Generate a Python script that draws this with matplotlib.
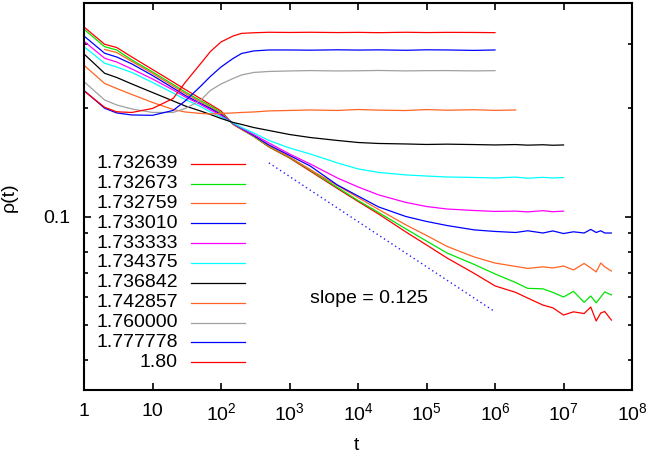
import numpy as np
import matplotlib
matplotlib.use("Agg")
import matplotlib.pyplot as plt
from matplotlib.lines import Line2D
from matplotlib.ticker import FixedLocator, FuncFormatter, NullFormatter, NullLocator

plt.rcParams['font.family'] = ['Liberation Sans', 'DejaVu Sans']
plt.rcParams['mathtext.fontset'] = 'custom'
plt.rcParams['mathtext.rm'] = 'Liberation Sans'
plt.rcParams['mathtext.it'] = 'Liberation Sans:italic'

nan = np.nan

# sampling times shared by all runs (each run stops at its own last time)
t = [1, 2, 3, 5, 10, 20, 30, 50, 70, 100, 150, 200, 300, 500, 1e3,
     2e3, 5e3, 1e4, 2e4, 5e4, 1e5, 2e5, 5e5, 1e6, 2e6, 3e6, 5e6, 7e6, 1e7,
     1.4e7, 2e7, 2.5e7, 3e7, 3.5e7, 4e7, 5e7]

# density rho(t) for each value of the control parameter
rho_1732639 = [0.3353, 0.3003, 0.2942, 0.2769, 0.2557, 0.2361, 0.2251, 0.2125, 0.2046, 0.1963,
               0.1801, 0.1744, 0.1668, 0.1560, 0.1454, 0.1338, 0.1197, 0.1102, 0.1017, 0.0907,
               0.0835, 0.0768, 0.0696, 0.0643, 0.0617, 0.0595, 0.0569, 0.0559, 0.0534, 0.0545,
               0.0539, 0.0562, 0.0514, 0.0541, 0.0546, 0.0517]
rho_1732673 = [0.3305, 0.2957, 0.2896, 0.2717, 0.2517, 0.2324, 0.2215, 0.2098, 0.2026, 0.1944,
               0.1806, 0.1750, 0.1668, 0.1565, 0.1459, 0.1347, 0.1205, 0.1109, 0.1027, 0.0925,
               0.0856, 0.0793, 0.0737, 0.0694, 0.0657, 0.0633, 0.0631, 0.0617, 0.0599, 0.0621,
               0.0579, 0.0603, 0.0577, 0.0599, 0.0619, 0.0607]
rho_1732759 = [nan, 0.2905, 0.2850, 0.2691, 0.2493, 0.2302, 0.2194, 0.2078, 0.2007, 0.1932,
               0.1808, 0.1750, 0.1673, 0.1570, 0.1464, 0.1351, 0.1220, 0.1130, 0.1047, 0.0949,
               0.0887, 0.0827, 0.0773, 0.0744, 0.0728, 0.0719, 0.0726, 0.0721, 0.0730, 0.0712,
               0.0742, 0.0721, 0.0703, 0.0744, 0.0726, 0.0707]
rho_1733010 = [0.3166, 0.2836, 0.2769, 0.2649, 0.2461, 0.2272, 0.2167, 0.2059, 0.1994, 0.1919,
               0.1812, 0.1755, 0.1679, 0.1580, 0.1478, 0.1382, 0.1224, 0.1141, 0.1064, 0.1001,
               0.0970, 0.0945, 0.0919, 0.0910, 0.0904, 0.0914, 0.0901, 0.0913, 0.0898, 0.0908,
               0.0901, 0.0922, 0.0904, 0.0914, 0.0901, 0.0901]
rho_1733333 = [0.3061, 0.2747, 0.2682, 0.2565, 0.2407, 0.2244, 0.2146, 0.2046, 0.1975, 0.1907,
               0.1815, 0.1761, 0.1689, 0.1600, 0.1492, 0.1400, 0.1280, 0.1209, 0.1149, 0.1095,
               0.1067, 0.1050, 0.1040, 0.1034, 0.1036, 0.1031, 0.1039, 0.1032, 0.1036]
rho_1734375 = [0.2957, 0.2661, 0.2598, 0.2509, 0.2354, 0.2201, 0.2112, 0.2020, 0.1950, 0.1889,
               0.1818, 0.1766, 0.1706, 0.1626, 0.1550, 0.1492, 0.1409, 0.1356, 0.1326, 0.1305,
               0.1296, 0.1288, 0.1284, 0.1280, 0.1287, 0.1278, 0.1285, 0.1280, 0.1283]
rho_1736842 = [0.2823, 0.2496, 0.2430, 0.2331, 0.2208, 0.2092, 0.2026, 0.1963, 0.1919, 0.1871,
               0.1824, 0.1801, 0.1766, 0.1733, 0.1689, 0.1657, 0.1626, 0.1605, 0.1595, 0.1590,
               0.1585, 0.1588, 0.1584, 0.1580, 0.1584, 0.1578, 0.1582, 0.1577, 0.1580]
rho_1742857 = [0.2627, 0.2339, 0.2265, 0.2180, 0.2072, 0.1981, 0.1950, 0.1932, 0.1925, 0.1932,
               0.1938, 0.1944, 0.1950, 0.1963, 0.1969, 0.1975, 0.1969, 0.1981, 0.1973, 0.1968,
               0.1980, 0.1972, 0.1978, 0.1970, 0.1975]
rho_1760000 = [0.2366, 0.2105, 0.2039, 0.1988, 0.1944, 0.1944, 0.1994, 0.2098, 0.2237, 0.2331,
               0.2414, 0.2469, 0.2509, 0.2525, 0.2533, 0.2539, 0.2533, 0.2536, 0.2541, 0.2534,
               0.2538, 0.2539, 0.2534, 0.2538]
rho_1777778 = [0.2237, 0.1997, 0.1938, 0.1913, 0.1909, 0.1969, 0.2092, 0.2294, 0.2446, 0.2598,
               0.2743, 0.2832, 0.2878, 0.2896, 0.2896, 0.2892, 0.2899, 0.2894, 0.2898, 0.2890,
               0.2899, 0.2896, 0.2888, 0.2896]
rho_1800000 = [0.2230, 0.2009, 0.1952, 0.1944, 0.1994, 0.2125, 0.2354, 0.2649, 0.2867, 0.3047,
               0.3166, 0.3219, 0.3232, 0.3242, 0.3238, 0.3242, 0.3236, 0.3240, 0.3234, 0.3242,
               0.3236, 0.3240, 0.3238, 0.3234]

labels = ["1.732639", "1.732673", "1.732759", "1.733010", "1.733333", "1.734375",
          "1.736842", "1.742857", "1.760000", "1.777778", "1.80"]
series = [rho_1732639, rho_1732673, rho_1732759, rho_1733010, rho_1733333, rho_1734375,
          rho_1736842, rho_1742857, rho_1760000, rho_1777778, rho_1800000]
colors = ["#ff0000", "#00e600", "#ff6424", "#0000ff", "#ff00ff", "#00ffff",
          "#000000", "#ff6424", "#a0a0a0", "#0000ff", "#ff0000"]

# power-law guide
guide_slope = 0.125
guide_t = [500, 1e6]
guide_rho_end = 0.0545      # value of the guide at its last time

x_ticks = [1, 10, 1e2, 1e3, 1e4, 1e5, 1e6, 1e7, 1e8]
y_major = [0.1]
y_minor = [0.04, 0.05, 0.06, 0.07, 0.08, 0.09, 0.2, 0.3]

fig = plt.figure(figsize=(6.48, 4.54), dpi=100)
ax = fig.add_axes([84 / 648, 64 / 454, 548 / 648, 387.5 / 454])
ax.set_xscale('log')
ax.set_yscale('log')

tt = np.array(t, dtype=float)
for i, (vals, c) in enumerate(zip(series, colors)):
    vals = np.array(vals, dtype=float)
    ax.plot(tt[:len(vals)], vals, color=c, lw=0.9, zorder=2 + i * 0.01)

gt = np.array(guide_t, dtype=float)
amp = guide_rho_end * gt[-1] ** guide_slope
gline = np.logspace(np.log10(gt[0]), np.log10(gt[-1]), 50)
ax.plot(gline, amp * gline ** (-guide_slope), color='#2020ff', lw=1.0,
        linestyle=(0, (1, 2.2)), zorder=2)
ax.text(2.0e3, 0.0595, "slope = %.3f" % guide_slope, fontsize=14, ha='left', va='center')

ax.set_xlim(1, 1e8)
ax.set_ylim(0.0331, 0.392)


def xfmt(v, pos):
    e = int(round(np.log10(v)))
    if e == 0:
        return "1"
    if e == 1:
        return "10"
    return r"$10^{%d}$" % e


ax.xaxis.set_major_locator(FixedLocator(x_ticks))
ax.xaxis.set_minor_locator(NullLocator())
ax.xaxis.set_major_formatter(FuncFormatter(xfmt))
ax.yaxis.set_major_locator(FixedLocator(y_major))
ax.yaxis.set_minor_locator(FixedLocator(y_minor))
ax.yaxis.set_major_formatter(FuncFormatter(lambda v, p: "%g" % v))
ax.yaxis.set_minor_formatter(NullFormatter())

ax.tick_params(which='both', direction='in', top=True, right=True, width=1.2,
               labelsize=14, color='black')
ax.tick_params(which='major', length=5)
ax.tick_params(which='minor', length=3)
ax.tick_params(axis='x', which='major', pad=9)
ax.tick_params(axis='y', which='major', pad=10)
for s in ax.spines.values():
    s.set_linewidth(1.5)

ax.set_xlabel("t", fontsize=14)
ax.set_ylabel("ρ(t)", fontsize=14)
ax.xaxis.set_label_coords(0.498, -0.121)
ax.yaxis.set_label_coords(-0.121, 0.498)

# key: label on the left (right-aligned), line sample on the right
row0, drow = 0.584, 0.05125
for i, (lab, c) in enumerate(zip(labels, colors)):
    yk = row0 - i * drow
    ax.text(0.1715, yk, lab, transform=ax.transAxes, fontsize=14, ha='right', va='center')
    ax.add_line(Line2D([0.1953, 0.2938], [yk, yk], transform=ax.transAxes, color=c, lw=0.9))

fig.savefig("out.png", dpi=100)
